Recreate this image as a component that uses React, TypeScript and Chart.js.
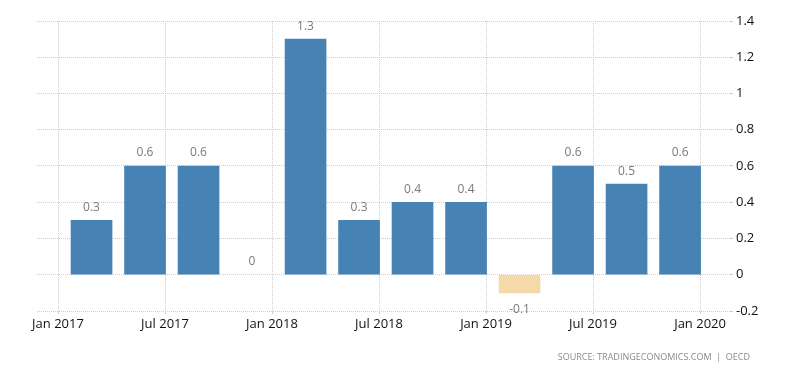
import React, { useEffect, useRef } from "react";
import { Chart, registerables } from "chart.js";

Chart.register(...registerables);

const quarters = ["Q1 2017", "Q2 2017", "Q3 2017", "Q4 2017", "Q1 2018", "Q2 2018", "Q3 2018", "Q4 2018", "Q1 2019", "Q2 2019", "Q3 2019", "Q4 2019"];
const values = [0.3, 0.6, 0.6, 0, 1.3, 0.3, 0.4, 0.4, -0.1, 0.6, 0.5, 0.6];
const xTickMonths = [0, 6, 12, 18, 24, 30, 36];
const xTickLabels = ["Jan 2017", "Jul 2017", "Jan 2018", "Jul 2018", "Jan 2019", "Jul 2019", "Jan 2020"];
const yTickValues = [-0.2, 0, 0.2, 0.4, 0.6, 0.8, 1, 1.2, 1.4];

const BLUE = "#4682b4";
const BEIGE = "#f5d9a8";
const FONT = "'Open Sans', 'DejaVu Sans', sans-serif";

const valueLabels = {
  id: "valueLabels",
  afterDatasetsDraw(chart: any) {
    const ctx = chart.ctx;
    const meta = chart.getDatasetMeta(0);
    ctx.save();
    ctx.font = `12px ${FONT}`;
    ctx.fillStyle = "#7a7a7a";
    ctx.textAlign = "center";
    ctx.textBaseline = "middle";
    meta.data.forEach((bar: any, i: number) => {
      const v = values[i];
      const txt = String(v);
      if (v >= 0) ctx.fillText(txt, bar.x, bar.y - 13);
      else ctx.fillText(txt, bar.x, bar.y + 17);
    });
    ctx.restore();
  },
};

export default function App() {
  const ref = useRef<HTMLCanvasElement>(null);
  useEffect(() => {
    if (!ref.current) return;
    const chart = new Chart(ref.current, {
      type: "bar",
      data: {
        labels: quarters,
        datasets: [
          {
            data: values.map((v, i) => ({ x: i * 3 + 1.88, y: v })),
            backgroundColor: values.map((v) => (v < 0 ? BEIGE : v === 0 ? "rgba(0,0,0,0)" : BLUE)),
            barThickness: 41,
            borderWidth: 0,
          },
        ],
      },
      options: {
        animation: false,
        responsive: true,
        maintainAspectRatio: false,
        layout: { padding: { left: 37, top: 21, right: 0, bottom: 0 } },
        plugins: { legend: { display: false }, tooltip: { enabled: false }, title: { display: false } },
        scales: {
          x: {
            type: "linear",
            offset: false,
            min: -1.178,
            max: 37.68,
            afterBuildTicks: (s: any) => {
              s.ticks = xTickMonths.map((v) => ({ value: v }));
            },
            afterFit: (s: any) => {
              s.height = 62;
            },
            ticks: {
              autoSkip: false,
              maxRotation: 0,
              padding: 2,
              color: "#111",
              font: { family: FONT, size: 13 },
              callback: (v: any) => {
                const idx = xTickMonths.indexOf(Math.round(Number(v)));
                return idx >= 0 ? xTickLabels[idx] : "";
              },
            },
            grid: { color: "#cfcfcf", tickLength: 3, drawTicks: true, offset: false },
            border: { display: false, dash: [1, 1] },
          },
          y: {
            position: "right",
            min: -0.2,
            max: 1.4,
            afterBuildTicks: (s: any) => {
              s.ticks = yTickValues.map((v) => ({ value: v }));
            },
            afterFit: (s: any) => {
              s.width = 70;
            },
            ticks: {
              padding: 3,
              color: "#111",
              font: { family: FONT, size: 13 },
              callback: (v: any) => String(Math.round(Number(v) * 10) / 10),
            },
            grid: { color: "#cfcfcf", tickLength: 3, drawTicks: true },
            border: { display: false, dash: [1, 1] },
          },
        },
      },
      plugins: [valueLabels],
    });
    return () => chart.destroy();
  }, []);

  return (
    <div style={{ position: "fixed", left: 0, top: 0, width: 800, height: 373, background: "#fff" }}>
      <canvas ref={ref} />
      <div
        style={{
          position: "absolute",
          right: 50,
          top: 350,
          fontFamily: FONT,
          fontSize: 9,
          letterSpacing: "0px",
          color: "#8a8a8a",
          whiteSpace: "nowrap",
        }}
      >
        SOURCE: TRADINGECONOMICS.COM&nbsp;&nbsp;|&nbsp;&nbsp;OECD
      </div>
    </div>
  );
}
